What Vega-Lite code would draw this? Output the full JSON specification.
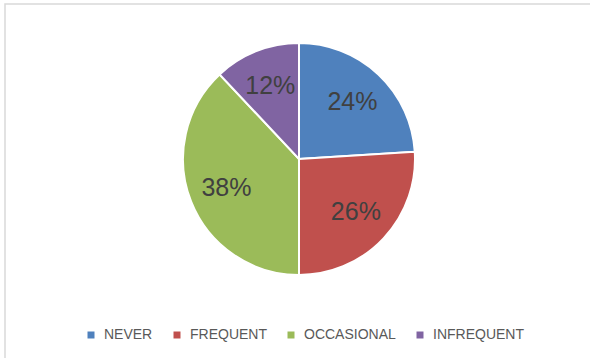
{
  "$schema": "https://vega.github.io/schema/vega-lite/v6.json",
  "width": 588,
  "height": 370,
  "autosize": "none",
  "padding": {"left": 5, "top": 4, "right": 0, "bottom": 0},
  "background": "white",
  "view": {"stroke": "#d9d9d9", "strokeWidth": 1.5, "fill": "white"},
  "config": {"view": {"stroke": "#d9d9d9", "strokeWidth": 1.5}},
  "data": {
    "values": [
      {"category": "NEVER", "value": 24, "label": "24%", "rank": 1},
      {"category": "FREQUENT", "value": 26, "label": "26%", "rank": 2},
      {"category": "OCCASIONAL", "value": 38, "label": "38%", "rank": 3},
      {"category": "INFREQUENT", "value": 12, "label": "12%", "rank": 4}
    ]
  },
  "encoding": {
    "theta": {"field": "value", "type": "quantitative", "stack": true},
    "order": {"field": "rank", "type": "quantitative"},
    "color": {
      "field": "category",
      "type": "nominal",
      "scale": {
        "domain": ["NEVER", "FREQUENT", "OCCASIONAL", "INFREQUENT"],
        "range": ["#4F81BD", "#C0504D", "#9BBB59", "#8064A2"]
      },
      "legend": {
        "orient": "none",
        "legendX": 79,
        "legendY": 324,
        "direction": "horizontal",
        "title": null,
        "symbolType": "square",
        "symbolSize": 49,
        "symbolStrokeWidth": 0,
        "labelFontSize": 14,
        "labelColor": "#595959",
        "labelFont": "Liberation Sans",
        "columnPadding": 17,
        "labelOffset": 6,
        "padding": 0
      }
    }
  },
  "layer": [
    {
      "mark": {"type": "arc", "outerRadius": 116, "stroke": "white", "strokeWidth": 2, "yOffset": -30}
    },
    {
      "mark": {"type": "text", "radius": 78, "fontSize": 25, "font": "Liberation Sans", "yOffset": -30},
      "encoding": {
        "text": {"field": "label"},
        "color": {"value": "#404040"}
      }
    }
  ]
}
